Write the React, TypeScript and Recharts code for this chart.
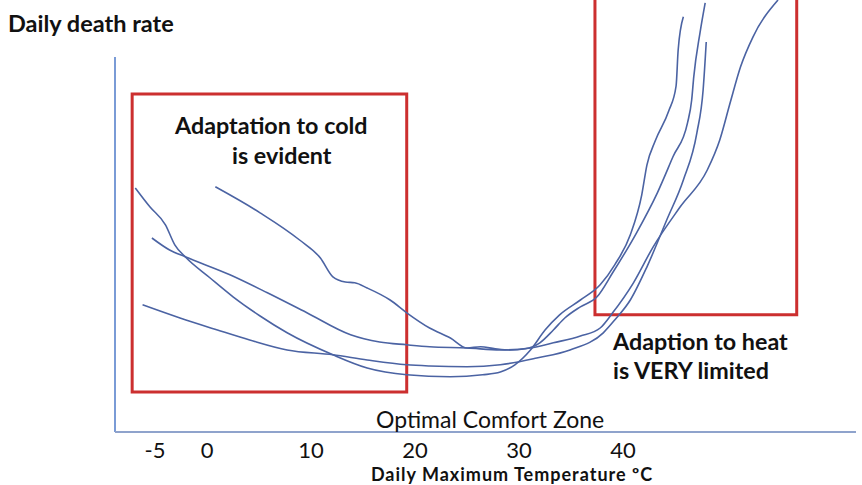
import { LineChart, Line, XAxis, YAxis, ReferenceArea, ReferenceLine } from "recharts";

// temperature (ºC) and death-rate index
const curveA = [
  { t: -6.9, v: 61 }, { t: -5.5, v: 56.3 }, { t: -4.0, v: 51.8 }, { t: -3.1, v: 46.8 },
  { t: -2.1, v: 43.8 }, { t: 0.3, v: 38.5 }, { t: 2.5, v: 33.8 }, { t: 5.1, v: 29 },
  { t: 7.7, v: 24.8 }, { t: 12.1, v: 19.3 }, { t: 15.4, v: 16 }, { t: 19.2, v: 14.3 },
  { t: 23.4, v: 13.8 }, { t: 26.5, v: 14.3 }, { t: 28.2, v: 15 }, { t: 29.6, v: 16.8 },
  { t: 31.1, v: 20.5 }, { t: 32.5, v: 25.5 }, { t: 33.9, v: 29.3 }, { t: 35.9, v: 33 },
  { t: 37.8, v: 36.8 }, { t: 39.2, v: 41.8 }, { t: 40.7, v: 49.3 }, { t: 41.8, v: 59.3 },
  { t: 42.3, v: 66.8 }, { t: 43.1, v: 72.8 }, { t: 44.4, v: 80.3 }, { t: 45.1, v: 86.5 },
  { t: 45.3, v: 95.5 }, { t: 45.8, v: 103.8 },
];

const curveB = [
  { t: -5.3, v: 48.5 }, { t: -3.6, v: 45.5 }, { t: -2.1, v: 43.8 }, { t: 2.2, v: 39.3 },
  { t: 5.8, v: 34.8 }, { t: 9.6, v: 29.8 }, { t: 13.8, v: 24.3 }, { t: 16.6, v: 22.5 },
  { t: 19.2, v: 21.8 }, { t: 21.4, v: 21.3 }, { t: 25, v: 21 }, { t: 28.2, v: 20.5 },
  { t: 31.1, v: 21 }, { t: 33.3, v: 22.3 }, { t: 35.9, v: 24 }, { t: 37.8, v: 26 },
  { t: 39, v: 29.8 }, { t: 41, v: 37.3 }, { t: 42.9, v: 46.3 }, { t: 45.5, v: 56.3 },
  { t: 48.1, v: 65.5 }, { t: 49.3, v: 73 }, { t: 50.3, v: 82.3 }, { t: 51.3, v: 91.3 },
  { t: 52.5, v: 98.8 }, { t: 54.9, v: 108 },
];

const curveC = [
  { t: -6.2, v: 31.8 }, { t: -2.6, v: 28.5 }, { t: 1, v: 25.5 }, { t: 4.1, v: 23 },
  { t: 7.7, v: 20.5 }, { t: 12.1, v: 19.3 }, { t: 15.4, v: 18 }, { t: 19.2, v: 16.8 },
  { t: 21.4, v: 16.5 }, { t: 25, v: 16.3 }, { t: 28.2, v: 16.8 }, { t: 31.7, v: 18.5 },
  { t: 34.9, v: 20.5 }, { t: 38.1, v: 24.8 }, { t: 39.2, v: 28 }, { t: 40.7, v: 33 },
  { t: 42.3, v: 41.3 }, { t: 44.2, v: 53 }, { t: 45.8, v: 63 }, { t: 47.1, v: 74.8 },
  { t: 47.7, v: 85.5 }, { t: 48, v: 97.5 },
];

const curveD = [
  { t: 0.8, v: 61.3 }, { t: 5.1, v: 54.8 }, { t: 8.9, v: 48 }, { t: 10.9, v: 43.5 },
  { t: 12.1, v: 38.8 }, { t: 13.3, v: 37.5 }, { t: 14.2, v: 37.3 }, { t: 15.4, v: 36 },
  { t: 17.6, v: 33 }, { t: 19.2, v: 29.8 }, { t: 21.4, v: 26 }, { t: 23.4, v: 23.5 },
  { t: 25, v: 21 }, { t: 26.3, v: 21.3 }, { t: 27.7, v: 20.8 }, { t: 29.1, v: 20.5 },
  { t: 30.6, v: 20.8 }, { t: 32, v: 22.3 }, { t: 33.3, v: 25.5 }, { t: 34.4, v: 28.5 },
  { t: 35.9, v: 31.3 }, { t: 37.5, v: 33.8 }, { t: 39, v: 39.8 }, { t: 41.3, v: 49.8 },
  { t: 43.3, v: 59.8 }, { t: 44.8, v: 68.8 }, { t: 46.2, v: 77.3 }, { t: 46.6, v: 83 },
  { t: 46.8, v: 88.8 }, { t: 47.4, v: 99.8 }, { t: 47.9, v: 107.3 },
];

const curves = [curveA, curveB, curveC, curveD];
const xTicks = [-5, 0, 10, 20, 30, 40];

const FONT = "Lato, 'Open Sans', sans-serif";
const LINE_BLUE = "#4b63a3";
const BOX_RED = "#cc2f2f";

export default function App() {
  return (
    <div style={{ position: "absolute", top: 0, left: 0, width: 862, height: 485, background: "#fff", overflow: "hidden" }}>
      <LineChart width={862} height={485} margin={{ top: 0, right: 6, bottom: 13, left: 115 }}>
        <XAxis
          type="number"
          dataKey="t"
          domain={[-8.85, 62.4]}
          ticks={xTicks}
          allowDataOverflow
          height={40}
          tickLine={false}
          tickSize={6}
          tickMargin={4.5}
          axisLine={{ stroke: "#8fa3cc", strokeWidth: 2 }}
          tick={{ fill: "#111", fontSize: 22, fontFamily: FONT }}
        />
        <YAxis type="number" dataKey="v" domain={[0, 108]} hide width={0} allowDataOverflow />
        <ReferenceLine
          segment={[{ x: -8.85, y: 0 }, { x: -8.85, y: 93.75 }]}
          stroke="#7a9bd6"
          strokeWidth={2}
          ifOverflow="visible"
        />
        <ReferenceArea x1={-7.2} x2={19.2} y1={10} y2={84.5} fill="none" stroke={BOX_RED} strokeWidth={3} ifOverflow="visible" />
        <ReferenceArea x1={37.3} x2={56.7} y1={29.3} y2={112} fill="none" stroke={BOX_RED} strokeWidth={3} ifOverflow="hidden" />
        {curves.map((c, i) => (
          <Line
            key={i}
            data={c}
            dataKey="v"
            type="monotone"
            stroke={LINE_BLUE}
            strokeWidth={1.6}
            dot={false}
            isAnimationActive={false}
          />
        ))}
      </LineChart>
      <svg width={862} height={485} style={{ position: "absolute", top: 0, left: 0, pointerEvents: "none" }}>
        <g fontFamily={FONT} fill="#111">
          <text x={8} y={32} fontSize={23.5} fontWeight="bold">Daily death rate</text>
          <text x={175} y={134} fontSize={23.3} fontWeight="bold">Adaptation to cold</text>
          <text x={232} y={164} fontSize={23.3} fontWeight="bold">is evident</text>
          <text x={613} y={350} fontSize={23.3} fontWeight="bold">Adaption to heat</text>
          <text x={613} y={379} fontSize={23.3} fontWeight="bold">is VERY limited</text>
          <text x={376} y={428} fontSize={23}>Optimal Comfort Zone</text>
          <text x={512} y={481} fontSize={18} fontWeight="bold" letterSpacing={1} textAnchor="middle">Daily Maximum Temperature ºC</text>
        </g>
      </svg>
    </div>
  );
}
